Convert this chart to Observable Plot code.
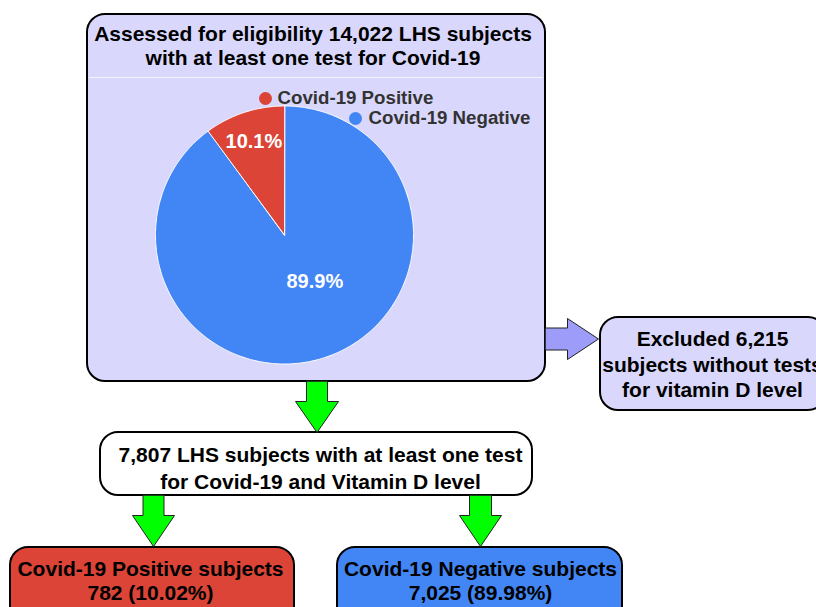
<!DOCTYPE html>
<html><head><meta charset="utf-8">
<script src="https://cdn.jsdelivr.net/npm/d3@7"></script>
<script src="https://cdn.jsdelivr.net/npm/@observablehq/plot@0.6"></script>
<style>html,body{margin:0;padding:0;background:#fff;overflow:hidden}#chart svg{display:block;overflow:hidden}</style>
</head><body><div id="chart"></div>
<script>
// ---------- data ----------
const sliceNames = ["Covid-19 Negative", "Covid-19 Positive"];
const slicePercents = [89.9, 10.1];
const legendNames = ["Covid-19 Positive", "Covid-19 Negative"];
const titleLines = ["Assessed for eligibility 14,022 LHS subjects", "with at least one test for Covid-19"];
const excludedLines = ["Excluded 6,215", "subjects without tests", "for vitamin D level"];
const includedLines = ["7,807 LHS subjects with at least one test", "for Covid-19 and Vitamin D level"];
const positiveLines = ["Covid-19 Positive subjects", "782 (10.02%)"];
const negativeLines = ["Covid-19 Negative subjects", "7,025 (89.98%)"];

// ---------- layout & style ----------
const FONT = "'Liberation Sans', Arial, Helvetica, sans-serif";
const sliceColors = {"Covid-19 Positive": "#db4437", "Covid-19 Negative": "#4285f4"};
const pie = {cx: 284, cy: 234.5, r: 129};
const sliceLabelLayout = {"Covid-19 Negative": {rf: 0.43, dAngle: -15}, "Covid-19 Positive": {rf: 0.76, dAngle: 0}};
const lavender = "#d9d8fc";
const boxes = [
  {id: "main", x1: 87, x2: 545, y1: 14, y2: 381, fill: lavender},
  {id: "excluded", x1: 600, x2: 826, y1: 317, y2: 410, fill: lavender},
  {id: "included", x1: 100, x2: 532, y1: 432, y2: 495, fill: "#ffffff"},
  {id: "positive", x1: 10, x2: 294, y1: 547, y2: 630, fill: "#db4437"},
  {id: "negative", x1: 337, x2: 622, y1: 547, y2: 630, fill: "#4285f4"}
];
const textBlocks = [
  {lines: titleLines, x: 312.5, y: 45, lh: 1.15, fs: 21},
  {lines: excludedLines, x: 712, y: 363, lh: 1.2, fs: 21},
  {lines: includedLines, x: 320, y: 466.5, lh: 1.25, fs: 21},
  {lines: positiveLines, x: 150, y: 580, lh: 1.15, fs: 21},
  {lines: negativeLines, x: 480, y: 580, lh: 1.15, fs: 21}
];
// arrows: direction, axis position, start, head start, tip, shaft width, head width
const arrows = [
  {id: "a1", dir: "down", c: 316.5, s: 381, h: 401, t: 432, sw: 21, hw: 43, fill: "#00ff00"},
  {id: "a2", dir: "down", c: 153, s: 495, h: 515, t: 546, sw: 21, hw: 42, fill: "#00ff00"},
  {id: "a3", dir: "down", c: 480, s: 495, h: 515, t: 546, sw: 22, hw: 42, fill: "#00ff00"},
  {id: "a4", dir: "right", c: 338.5, s: 545, h: 567, t: 598, sw: 22, hw: 41, fill: "#9d9cf8"}
];
const legendLayout = [
  {dx: 265, dy: 98, tx: 277},
  {dx: 355, dy: 118, tx: 368}
];

// ---------- derived geometry ----------
const pieData = sliceNames.map((name, i) => ({name, value: slicePercents[i]}));
const arcs = d3.pie().sort(null).value(d => d.value).startAngle(0).endAngle(2 * Math.PI)(pieData);
const slicePts = [];
const sliceLabels = [];
for (const a of arcs) {
  const n = Math.max(2, Math.ceil((a.endAngle - a.startAngle) / (Math.PI / 360)));
  slicePts.push({name: a.data.name, x: pie.cx, y: pie.cy});
  for (let k = 0; k <= n; k++) {
    const ang = a.startAngle + (a.endAngle - a.startAngle) * k / n;
    slicePts.push({name: a.data.name, x: pie.cx + pie.r * Math.sin(ang), y: pie.cy - pie.r * Math.cos(ang)});
  }
  const L = sliceLabelLayout[a.data.name];
  const mid = (a.startAngle + a.endAngle) / 2 + L.dAngle * Math.PI / 180;
  sliceLabels.push({
    x: pie.cx + L.rf * pie.r * Math.sin(mid),
    y: pie.cy - L.rf * pie.r * Math.cos(mid),
    text: a.data.value.toFixed(1) + "%"
  });
}
const arrowPts = [];
for (const a of arrows) {
  const s = a.sw / 2, h = a.hw / 2;
  const pts = [[-s, a.s], [-s, a.h], [-h, a.h], [0, a.t], [h, a.h], [s, a.h], [s, a.s]];
  for (const [o, p] of pts) {
    if (a.dir === "down") arrowPts.push({id: a.id, fill: a.fill, x: a.c + o, y: p});
    else arrowPts.push({id: a.id, fill: a.fill, x: p, y: a.c + o});
  }
}
const legendRows = legendNames.map((name, i) => ({name, ...legendLayout[i]}));

// ---------- plot ----------
const textMarks = textBlocks.map(b => Plot.text([b], {
  x: "x", y: "y", text: d => d.lines.join("\n"), lineHeight: b.lh,
  fontSize: b.fs, fontWeight: "bold", fill: "#000", fontFamily: FONT, textAnchor: "middle"
}));

const chart = Plot.plot({
  width: 816, height: 607,
  margin: 0,
  x: {domain: [0, 816], range: [0, 816], axis: null},
  y: {domain: [0, 607], range: [0, 607], axis: null},
  color: {type: "identity"},
  style: {fontFamily: FONT, background: "#ffffff"},
  marks: [
    Plot.rect(boxes, {x1: "x1", x2: "x2", y1: "y1", y2: "y2", fill: "fill", stroke: "#000", strokeWidth: 2, rx: 18}),
    Plot.ruleY([77], {x1: 89, x2: 543, stroke: "#ffffff", strokeOpacity: 0.7, strokeWidth: 1}),
    Plot.line(slicePts, {x: "x", y: "y", z: "name", fill: d => sliceColors[d.name], stroke: "#ffffff", strokeWidth: 1, curve: "linear-closed"}),
    Plot.text(sliceLabels, {x: "x", y: "y", text: "text", fill: "#ffffff", fontSize: 20, fontWeight: "bold", fontFamily: FONT}),
    Plot.dot(legendRows, {x: "dx", y: "dy", r: 6.5, fill: d => sliceColors[d.name], stroke: null}),
    Plot.text(legendRows, {x: "tx", y: "dy", text: "name", textAnchor: "start", fill: "#333333", fontSize: 18.7, fontWeight: "bold", fontFamily: FONT}),
    Plot.line(arrowPts, {x: "x", y: "y", z: "id", fill: "fill", stroke: "#222222", strokeWidth: 1, curve: "linear-closed"}),
    ...textMarks
  ]
});
document.getElementById("chart").appendChild(chart);
</script>
</body></html>
